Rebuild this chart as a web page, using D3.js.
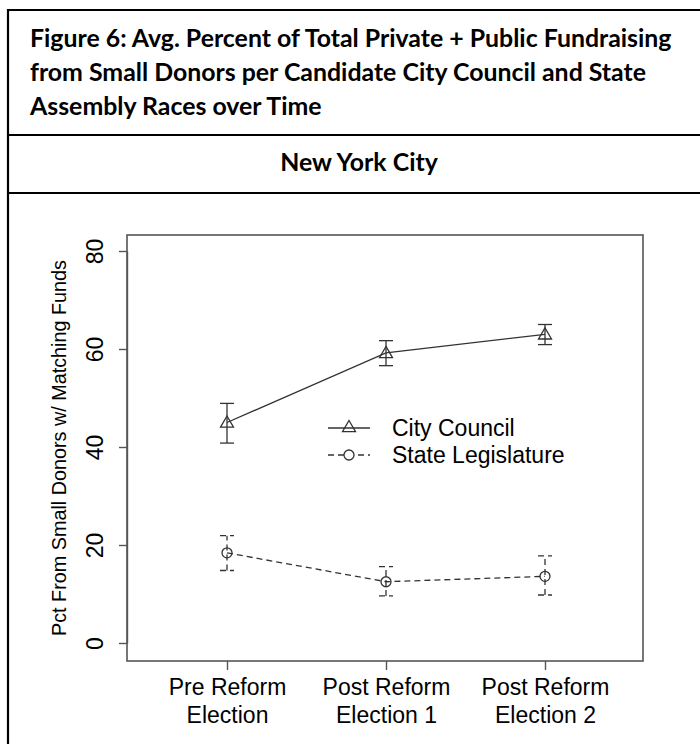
<!DOCTYPE html>
<html>
<head>
<meta charset="utf-8">
<script src="https://cdn.jsdelivr.net/npm/d3@7"></script>
<style>
  html, body { margin: 0; padding: 0; background: #fff; }
  svg { display: block; }
</style>
</head>
<body>
<svg id="chart" width="700" height="744"></svg>
<script>
// ---- data ----
const titleLines = [
  "Figure 6: Avg. Percent of Total Private + Public Fundraising",
  "from Small Donors per Candidate City Council and State",
  "Assembly Races over Time"
];
const subtitle = "New York City";
const categories = ["Pre Reform|Election", "Post Reform|Election 1", "Post Reform|Election 2"];
const yTicks = [0, 20, 40, 60, 80];
const yLabel = "Pct From Small Donors w/ Matching Funds";
const seriesNames = ["City Council", "State Legislature"];
const cityCouncil = [45.0, 59.2, 63.0];
const cityCouncilLow = [40.8, 56.6, 60.9];
const cityCouncilHigh = [48.9, 61.7, 65.0];
const stateLeg = [18.4, 12.5, 13.6];
const stateLegLow = [14.8, 9.6, 9.8];
const stateLegHigh = [21.9, 15.6, 17.8];

// ---- layout ----
const svg = d3.select("#chart");
const frame = { left: 127, right: 643, top: 235, bottom: 661 };
const x = d3.scalePoint().domain(categories).range([227, 545]);
const y = d3.scaleLinear().domain([0, 80]).range([643, 251]);
const lineColor = "#333";
const frameColor = "#555";

// table borders
const border = svg.append("g").attr("stroke", "#000").attr("stroke-width", 2.2);
border.append("line").attr("x1", 7).attr("x2", 700).attr("y1", 10).attr("y2", 10);
border.append("line").attr("x1", 8).attr("x2", 8).attr("y1", 9).attr("y2", 744);
border.append("line").attr("x1", 7).attr("x2", 700).attr("y1", 135).attr("y2", 135);
border.append("line").attr("x1", 7).attr("x2", 700).attr("y1", 193).attr("y2", 193);

// title
const titleFont = "Lato, 'Open Sans', sans-serif";
const tg = svg.append("g").attr("font-family", titleFont).attr("font-weight", "bold").attr("fill", "#000");
const tLines = tg.selectAll("text").data(titleLines).join("text")
  .attr("x", 30).attr("y", (d, i) => 47 + i * 34)
  .attr("font-size", 22).text(d => d);
// fit first line to the reference width
const w0 = tLines.node().getComputedTextLength();
const fs = 22 * 642 / w0;
tLines.attr("font-size", fs);
tg.append("text").attr("x", 359).attr("y", 171).attr("text-anchor", "middle")
  .attr("font-size", fs).text(subtitle);

// plot frame
svg.append("rect")
  .attr("x", frame.left).attr("y", frame.top)
  .attr("width", frame.right - frame.left).attr("height", frame.bottom - frame.top)
  .attr("fill", "none").attr("stroke", frameColor).attr("stroke-width", 1.6);

const axisFont = "Arial, 'Liberation Sans', sans-serif";

// y axis
const yAxis = svg.append("g").attr("transform", `translate(${frame.left},0)`)
  .call(d3.axisLeft(y).tickValues(yTicks).tickSize(8).tickSizeOuter(0).tickFormat(d3.format("d")));
yAxis.select(".domain").attr("stroke", frameColor).attr("stroke-width", 1.4);
yAxis.selectAll(".tick line").attr("stroke", frameColor).attr("stroke-width", 1.4);
yAxis.selectAll(".tick text")
  .attr("font-family", axisFont).attr("font-size", 23).attr("fill", "#000")
  .attr("transform", "rotate(-90)").attr("x", 0).attr("y", -32)
  .attr("dy", "0.36em").attr("text-anchor", "middle");

svg.append("text")
  .attr("transform", `translate(66,${(frame.top + frame.bottom) / 2}) rotate(-90)`)
  .attr("text-anchor", "middle")
  .attr("font-family", axisFont).attr("font-size", 19.8).attr("fill", "#000")
  .text(yLabel);

// x axis
const xAxis = svg.append("g").attr("transform", `translate(0,${frame.bottom})`)
  .call(d3.axisBottom(x).tickSize(9).tickSizeOuter(0).tickFormat(""));
xAxis.select(".domain").remove();
xAxis.selectAll(".tick line").attr("stroke", frameColor).attr("stroke-width", 1.4);
xAxis.selectAll(".tick text").remove();
xAxis.selectAll(".tick").append("text")
  .attr("font-family", axisFont).attr("font-size", 23).attr("fill", "#000")
  .attr("text-anchor", "middle")
  .selectAll("tspan").data(d => d.split("|")).join("tspan")
  .attr("x", 0).attr("y", (d, i) => 34 + i * 28).text(d => d);

// series
const triPath = "M0,-6.5L6.5,4.7L-6.5,4.7Z";
function drawSeries(vals, lo, hi, dash, symbol) {
  const g = svg.append("g").attr("stroke", lineColor).attr("fill", "none").attr("stroke-width", 1.3);
  if (dash) g.attr("stroke-dasharray", dash);
  g.append("path")
    .attr("d", d3.line().x((d, i) => x(categories[i])).y(d => y(d))(vals));
  vals.forEach((v, i) => {
    const cx = x(categories[i]);
    g.append("line").attr("x1", cx).attr("x2", cx).attr("y1", y(lo[i])).attr("y2", y(hi[i]));
    g.append("line").attr("x1", cx - 7).attr("x2", cx + 7).attr("y1", y(lo[i])).attr("y2", y(lo[i]));
    g.append("line").attr("x1", cx - 7).attr("x2", cx + 7).attr("y1", y(hi[i])).attr("y2", y(hi[i]));
    if (symbol === "tri") {
      g.append("path").attr("d", triPath).attr("transform", `translate(${cx},${y(v)})`)
        .attr("stroke-dasharray", null).attr("stroke", lineColor);
    } else {
      g.append("circle").attr("cx", cx).attr("cy", y(v)).attr("r", 5)
        .attr("stroke-dasharray", null);
    }
  });
  return g;
}
drawSeries(cityCouncil, cityCouncilLow, cityCouncilHigh, null, "tri");
const sl = drawSeries(stateLeg, stateLegLow, stateLegHigh, "6,4", "circ");
sl.selectAll("circle, path:not(:first-child)").style("stroke-dasharray", "none");
sl.selectAll("circle").style("stroke-dasharray", "none");

// legend
const lg = svg.append("g");
const legendRows = [
  { name: seriesNames[0], y: 428, dash: null, sym: "tri" },
  { name: seriesNames[1], y: 455, dash: "6,4", sym: "circ" }
];
legendRows.forEach(r => {
  lg.append("line").attr("x1", 328).attr("x2", 370).attr("y1", r.y).attr("y2", r.y)
    .attr("stroke", lineColor).attr("stroke-width", 1.3)
    .attr("stroke-dasharray", r.dash);
  if (r.sym === "tri") {
    lg.append("path").attr("d", triPath).attr("transform", `translate(349,${r.y - 1})`)
      .attr("fill", "none").attr("stroke", lineColor).attr("stroke-width", 1.3);
  } else {
    lg.append("circle").attr("cx", 349).attr("cy", r.y).attr("r", 5)
      .attr("fill", "#fff").attr("stroke", lineColor).attr("stroke-width", 1.3);
  }
  lg.append("text").attr("x", 392).attr("y", r.y).attr("dy", "0.36em")
    .attr("font-family", axisFont).attr("font-size", 23).attr("fill", "#000")
    .text(r.name);
});
</script>
</body>
</html>
